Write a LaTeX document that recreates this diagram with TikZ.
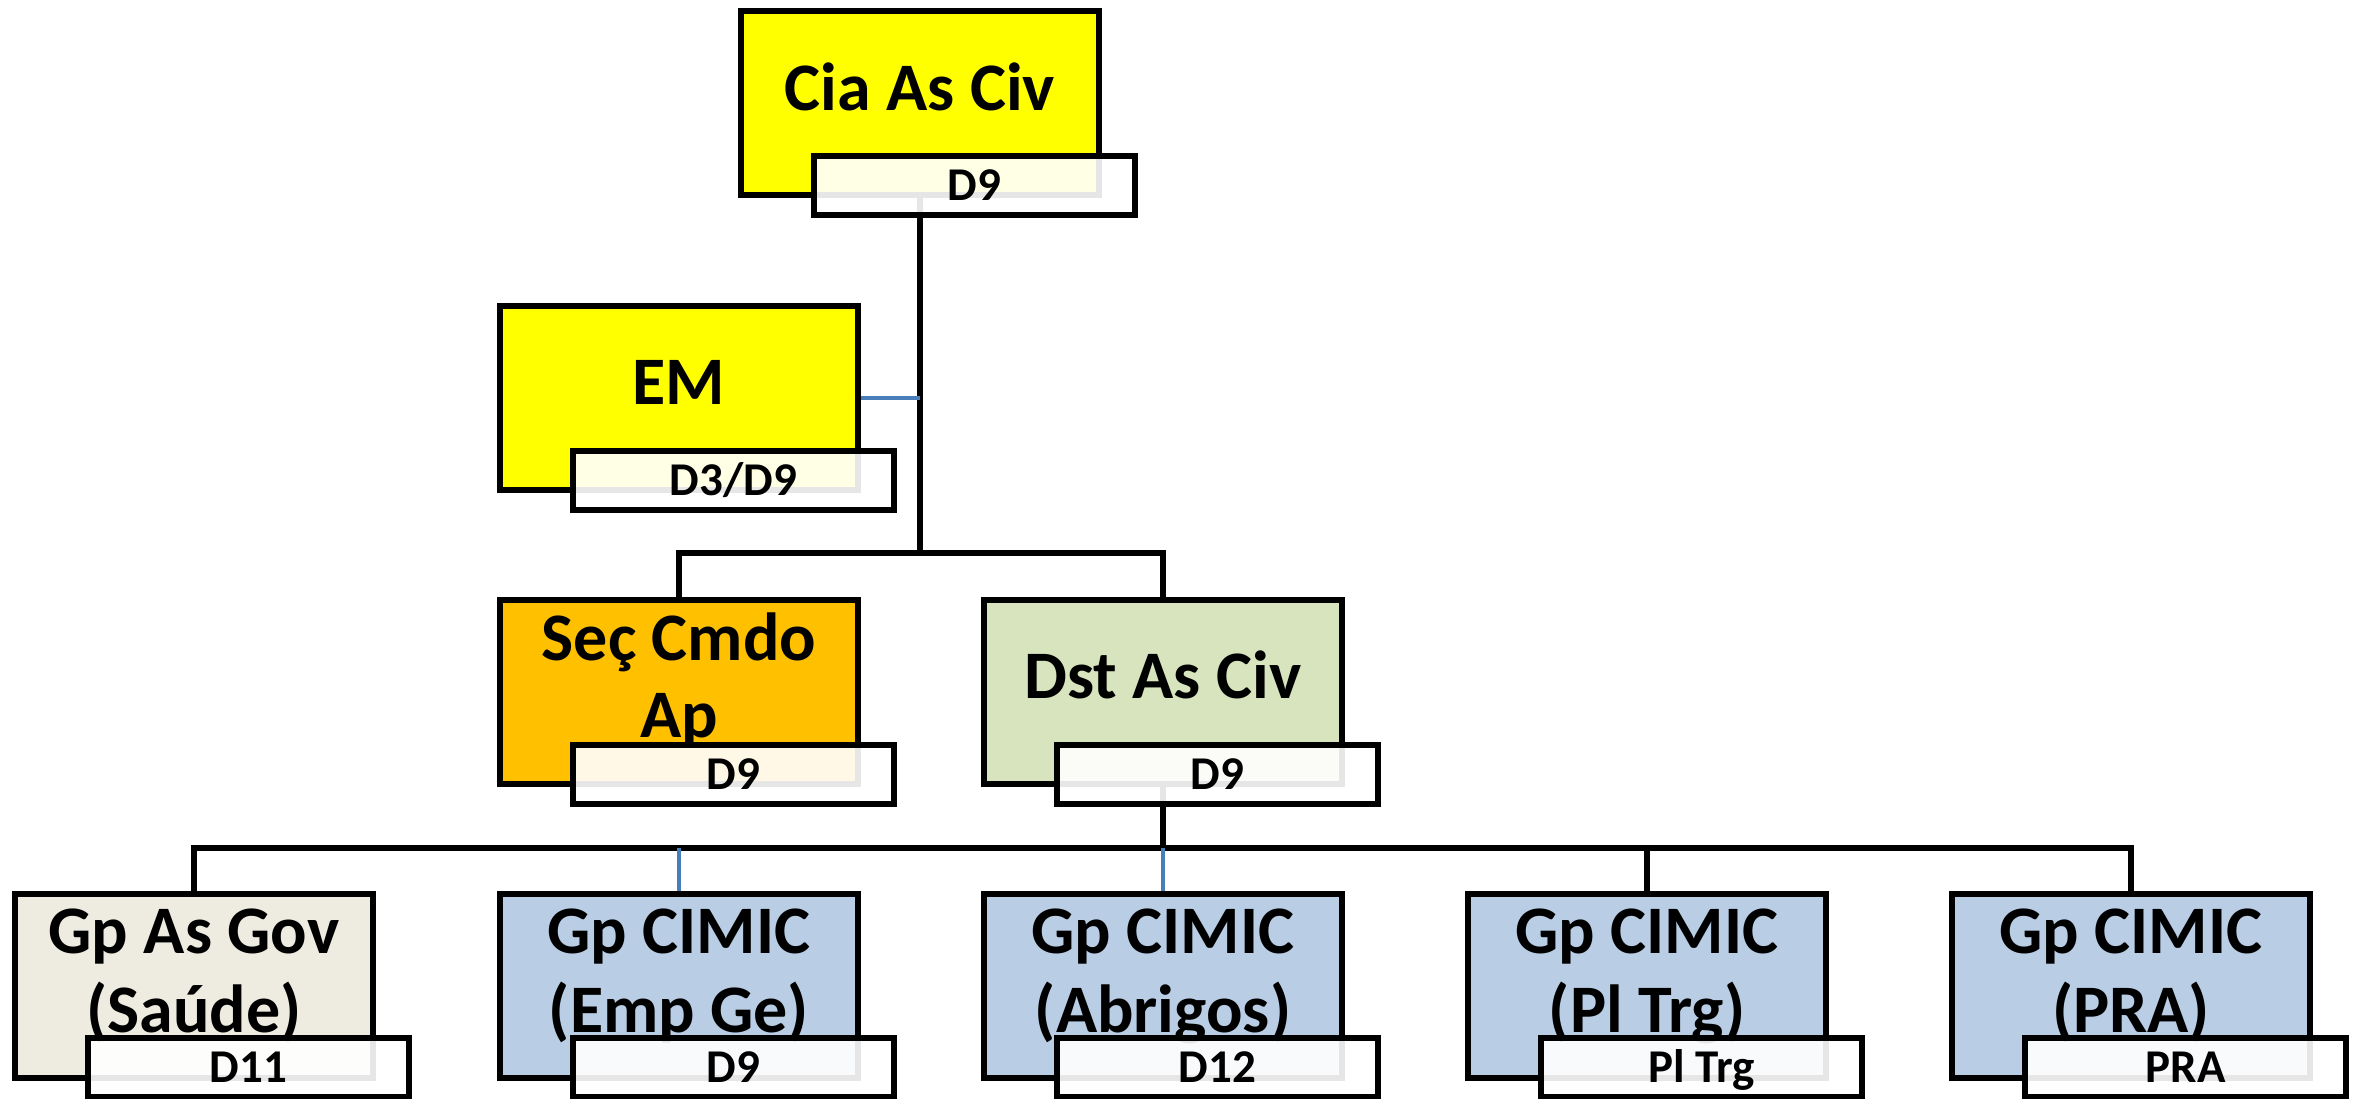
\documentclass[tikz,border=0pt]{standalone}
\usepackage{fontspec}
\setmainfont{Carlito}
\definecolor{cyel}{HTML}{FFFF00}
\definecolor{corg}{HTML}{FFC000}
\definecolor{cgrn}{HTML}{D7E4BD}
\definecolor{cgry}{HTML}{EEECE1}
\definecolor{cblu}{HTML}{B9CDE5}
\definecolor{cline}{HTML}{4A7EBB}
\tikzset{
  unitbox/.style={draw, line width=6pt, minimum width=358pt, minimum height=184pt, anchor=north west, inner sep=0pt, outer sep=0pt},
  tagbox/.style={draw, line width=6pt, fill=white, fill opacity=0.9, text opacity=1, draw opacity=1,
     minimum width=321pt, minimum height=59pt, anchor=north west, inner sep=0pt, outer sep=0pt,
     text height=31pt, text depth=2pt, font=\fontsize{47}{50}\selectfont\bfseries},
  bigtext/.style={anchor=base, inner sep=0pt, font=\fontsize{68}{79}\selectfont\bfseries},
  conn/.style={line width=5.5pt, black, line cap=rect},
  blueconn/.style={line width=4pt, cline},
}
\begin{document}
\begin{tikzpicture}[x=1pt,y=-1pt]
\useasboundingbox (0,0) rectangle (2359,1098);
% box positions (centre line of border)
\path (741,11) coordinate (pcia) (500,306) coordinate (pem) (500,600) coordinate (psec) (984,600) coordinate (pdst)
      (15,894) coordinate (pg1) (500,894) coordinate (pg2) (984,894) coordinate (pg3) (1468,894) coordinate (pg4) (1952,894) coordinate (pg5);
% geometry for connectors
\node[unitbox, draw=none] (cia) at (pcia) {};
\node[unitbox, draw=none] (em) at (pem) {};
\node[unitbox, draw=none] (sec) at (psec) {};
\node[unitbox, draw=none] (dst) at (pdst) {};
\node[unitbox, draw=none] (g1) at (pg1) {};
\node[unitbox, draw=none] (g2) at (pg2) {};
\node[unitbox, draw=none] (g3) at (pg3) {};
\node[unitbox, draw=none] (g4) at (pg4) {};
\node[unitbox, draw=none] (g5) at (pg5) {};
% junction points
\coordinate (j1) at (cia.south |- 0,553);
\coordinate (j2) at (dst.south |- 0,848);
% connectors
\draw[conn] (cia.south) -- (j1);
\draw[blueconn] (em.east) -- (em.east -| j1);
\draw[conn] (sec.north) |- (j1) -| (dst.north);
\draw[conn] (dst.south) -- (j2);
\draw[conn] (g1.north) |- (j2) -| (g5.north);
\draw[conn] (g4.north) -- (g4.north |- j2);
\draw[blueconn] (g2.north) -- (g2.north |- j2);
\draw[blueconn] (g3.north) -- (g3.north |- j2);
% drawn boxes
\node[unitbox, fill=cyel] (ciab) at (pcia) {};
\node[unitbox, fill=cyel] (emb) at (pem) {};
\node[unitbox, fill=corg] (secb) at (psec) {};
\node[unitbox, fill=cgrn] (dstb) at (pdst) {};
\node[unitbox, fill=cgry] (g1b) at (pg1) {};
\node[unitbox, fill=cblu] (g2b) at (pg2) {};
\node[unitbox, fill=cblu] (g3b) at (pg3) {};
\node[unitbox, fill=cblu] (g4b) at (pg4) {};
\node[unitbox, fill=cblu] (g5b) at (pg5) {};
% box texts
\node[bigtext] (ciat) at (920,110) {Cia As Civ};
\node[bigtext] (emt) at (679,404) {EM};
\node[bigtext] (sect1) at (679,660) {Seç Cmdo};
\node[bigtext] (sect2) at (679,737) {Ap};
\node[bigtext] (dstt) at (1163,698) {Dst As Civ};
\node[bigtext] (g1t1) at (194,953) {Gp As Gov};
\node[bigtext] (g1t2) at (194,1032) {(Saúde)};
\node[bigtext] (g2t1) at (679,953) {Gp CIMIC};
\node[bigtext] (g2t2) at (679,1032) {(Emp Ge)};
\node[bigtext] (g3t1) at (1163,953) {Gp CIMIC};
\node[bigtext] (g3t2) at (1163,1032) {(Abrigos)};
\node[bigtext] (g4t1) at (1647,953) {Gp CIMIC};
\node[bigtext] (g4t2) at (1647,1032) {(Pl Trg)};
\node[bigtext] (g5t1) at (2131,953) {Gp CIMIC};
\node[bigtext] (g5t2) at (2131,1032) {(PRA)};
% tags
\node[tagbox] (ciatag) at (814,156) {D9};
\node[tagbox] (emtag) at (573,451) {D3/D9};
\node[tagbox] (sectag) at (573,745) {D9};
\node[tagbox] (dsttag) at (1057,745) {D9};
\node[tagbox] (g1tag) at (88,1038) {D11};
\node[tagbox] (g2tag) at (573,1038) {D9};
\node[tagbox] (g3tag) at (1057,1038) {D12};
\node[tagbox] (g4tag) at (1541,1038) {Pl Trg};
\node[tagbox] (g5tag) at (2025,1038) {PRA};
\end{tikzpicture}
\end{document}
